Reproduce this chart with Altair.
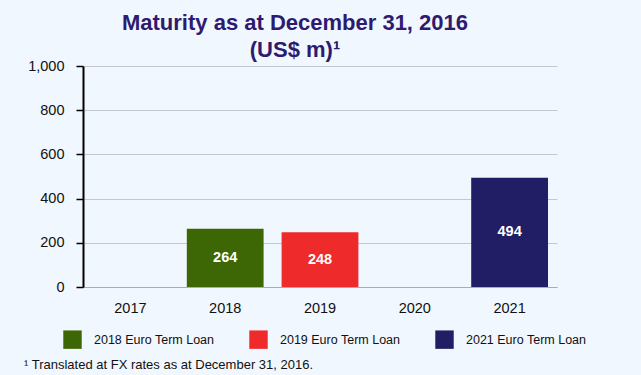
import altair as alt
import pandas as pd

years = ["2017", "2018", "2019", "2020", "2021"]
bar_years = ["2018", "2019", "2021"]
values = [264, 248, 494]
series = ["2018 Euro Term Loan", "2019 Euro Term Loan", "2021 Euro Term Loan"]
colors = ["#3D6704", "#EE2A2A", "#221E66"]
y_ticks = [0, 200, 400, 600, 800, 1000]

df = pd.DataFrame({"year": bar_years, "value": values, "series": series})
df["mid"] = df["value"] / 2

FONT = "Liberation Sans"

x_enc = alt.X("year:N", scale=alt.Scale(domain=years, paddingInner=0.19, paddingOuter=0.095),
              axis=alt.Axis(title=None, labelAngle=0, ticks=False, domain=True, domainColor="#A8ADB3",
                            labelFontSize=14.5, labelColor="#111111", labelPadding=14, labelFont=FONT,
                            grid=False))

bars = alt.Chart(df).mark_bar().encode(
    x=x_enc,
    y=alt.Y("value:Q", scale=alt.Scale(domain=[0, 1000], nice=False),
            axis=alt.Axis(title=None, values=y_ticks, format=",d", grid=True, gridColor="#C4C8CC",
                          gridWidth=1, domain=True, domainColor="#000000", domainWidth=2,
                          tickColor="#000000", tickSize=7, tickWidth=1.5, labelFontSize=14.5,
                          labelColor="#111111", labelPadding=12, labelFont=FONT)),
    color=alt.Color("series:N", scale=alt.Scale(domain=series, range=colors),
                    legend=alt.Legend(title=None, orient="none", direction="horizontal",
                                      legendX=-20, legendY=264, symbolType="square",
                                      symbolSize=340, symbolStrokeWidth=0, labelFontSize=12.5,
                                      labelFont=FONT, labelColor="#111111", labelOffset=12,
                                      columnPadding=34, symbolOpacity=1)),
)

labels = alt.Chart(df).mark_text(color="white", fontSize=14.5, fontWeight="bold", font=FONT,
                                 baseline="middle").encode(
    x=alt.X("year:N", scale=alt.Scale(domain=years, paddingInner=0.19, paddingOuter=0.095)),
    y=alt.Y("mid:Q"),
    text=alt.Text("value:Q"),
)

foot = alt.Chart(pd.DataFrame({"t": ["¹ Translated at FX rates as at December 31, 2016."]})).mark_text(
    align="left", baseline="middle", fontSize=13, font=FONT, color="#111111"
).encode(x=alt.value(-59), y=alt.value(299), text="t:N")

chart = alt.layer(bars, labels, foot).properties(
    width=474, height=221,
    title=alt.TitleParams(text=["Maturity as at December 31, 2016", "(US$ m)¹"], fontSize=22,
                          font=FONT, fontWeight="bold", color="#2E1A6E", anchor="middle",
                          dx=-25, dy=14, offset=10, lineHeight=27),
    padding={"left": 83, "top": 66, "right": 84, "bottom": 88},
    background="#F0F7FE",
    autosize=alt.AutoSizeParams(type="none"),
).configure_view(stroke=None)

chart.save("out.html", embed_options={"renderer": "svg", "actions": False})
